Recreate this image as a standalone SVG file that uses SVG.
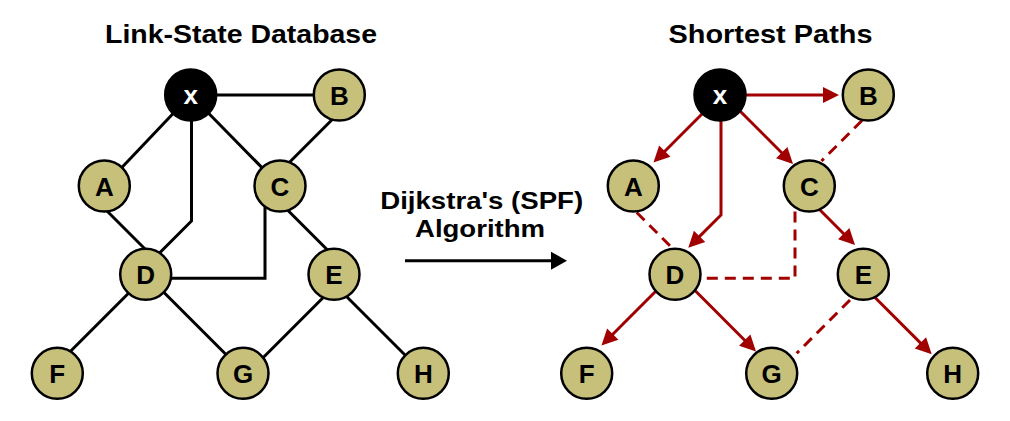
<svg xmlns="http://www.w3.org/2000/svg" width="1010" height="421" viewBox="0 0 1010 421">
<style>
.title{font-family:"Liberation Sans",Arial,sans-serif;font-weight:bold;fill:#000;text-anchor:middle}
.node circle{fill:#c6c07a;stroke:#000;stroke-width:2.5}
.node.src circle{fill:#000}
.node text{font-family:"Liberation Sans",Arial,sans-serif;font-weight:bold;font-size:26px;text-anchor:middle;fill:#000}
.node.src text{fill:#fff}
.blk{fill:none;stroke:#000;stroke-width:3}
.red{fill:none;stroke:#a00000;stroke-width:3}
.dash{fill:none;stroke:#a00000;stroke-width:3;stroke-dasharray:11 7}
.arr{marker-end:url(#ra)}
</style>
<defs>
<marker id="ra" markerUnits="userSpaceOnUse" markerWidth="16" markerHeight="16" refX="12" refY="8" orient="auto" overflow="visible">
<path d="M0,0 L16,8 L0,16 Z" fill="#a00000"/>
</marker>
<marker id="ba" markerUnits="userSpaceOnUse" markerWidth="16" markerHeight="18" refX="12" refY="9" orient="auto" overflow="visible">
<path d="M0,0 L16,9 L0,18 Z" fill="#000"/>
</marker>
</defs>
<rect width="1010" height="421" fill="#fff"/>
<text class="title" x="241" y="43" font-size="26" textLength="272" lengthAdjust="spacingAndGlyphs">Link-State Database</text>
<text class="title" x="770.5" y="43" font-size="26" textLength="204" lengthAdjust="spacingAndGlyphs">Shortest Paths</text>
<text class="title" x="481.7" y="209.3" font-size="24" textLength="203" lengthAdjust="spacingAndGlyphs">Dijkstra's (SPF)</text>
<text class="title" x="480" y="236.7" font-size="24" textLength="130" lengthAdjust="spacingAndGlyphs">Algorithm</text>
<g id="connectors">
<g id="left-edges">
<path class="blk" d="M191,95 H339"/>
<path class="blk" d="M190.7,95 L104.3,186"/>
<path class="blk" d="M190.7,95 L280,186"/>
<path class="blk" d="M336,115.7 L287,164.7"/>
<path class="blk" d="M106,210 L146,250"/>
<path class="blk" d="M191.5,95 V221 L150,262.5"/>
<path class="blk" d="M265,200 V278.3 H150"/>
<path class="blk" d="M285,207.5 L330,252.5"/>
<path class="blk" d="M130,291.7 L68,353.7"/>
<path class="blk" d="M163,291.5 L228,356.5"/>
<path class="blk" d="M324.5,296.3 L262,358.8"/>
<path class="blk" d="M345,295 L408,358"/>
</g>
<path id="algo-arrow" class="blk" d="M405,260.7 H563" marker-end="url(#ba)"/>
<g id="right-edges">
<path class="red arr" d="M720,95 H835"/>
<path class="red arr" d="M718,98 L656.3,159.7"/>
<path class="red arr" d="M736,107 L790.2,161.2"/>
<path class="red arr" d="M721,95 V215 L691.1,244.9"/>
<path class="red arr" d="M816,206 L852.2,242.2"/>
<path class="red arr" d="M658,289 L604.3,342.7"/>
<path class="red arr" d="M692,287.5 L753.2,348.7"/>
<path class="red arr" d="M872,294.5 L928.9,351.4"/>
<path class="dash" d="M862,120.5 L821.5,161"/>
<path class="dash" d="M636.7,212.5 L673.5,249.3"/>
<path class="dash" d="M795,211.5 V278.3 H701"/>
<path class="dash" d="M850,300 L796.7,353.3"/>
</g>
</g>
<g id="left-x" class="node src"><circle cx="190.7" cy="95" r="25.5"/><text x="190.7" y="104">x</text></g>
<g id="left-B" class="node"><circle cx="339.3" cy="95" r="25.5"/><text x="339.3" y="104.5">B</text></g>
<g id="left-A" class="node"><circle cx="104.3" cy="186" r="25.5"/><text x="104.3" y="195.5">A</text></g>
<g id="left-C" class="node"><circle cx="280" cy="186" r="25.5"/><text x="280" y="195.5">C</text></g>
<g id="left-D" class="node"><circle cx="145.7" cy="274.3" r="25.5"/><text x="145.7" y="283.8">D</text></g>
<g id="left-E" class="node"><circle cx="334" cy="274.3" r="25.5"/><text x="334" y="283.8">E</text></g>
<g id="left-F" class="node"><circle cx="57.3" cy="373.3" r="25.5"/><text x="57.3" y="382.8">F</text></g>
<g id="left-G" class="node"><circle cx="243" cy="373.3" r="25.5"/><text x="243" y="382.8">G</text></g>
<g id="left-H" class="node"><circle cx="423.3" cy="373.3" r="25.5"/><text x="423.3" y="382.8">H</text></g>
<g id="right-x" class="node src"><circle cx="720" cy="95" r="25.5"/><text x="720" y="104">x</text></g>
<g id="right-B" class="node"><circle cx="868.3" cy="95" r="25.5"/><text x="868.3" y="104.5">B</text></g>
<g id="right-A" class="node"><circle cx="633.3" cy="186" r="25.5"/><text x="633.3" y="195.5">A</text></g>
<g id="right-C" class="node"><circle cx="809.3" cy="186" r="25.5"/><text x="809.3" y="195.5">C</text></g>
<g id="right-D" class="node"><circle cx="675" cy="274.3" r="25.5"/><text x="675" y="283.8">D</text></g>
<g id="right-E" class="node"><circle cx="863.3" cy="274.3" r="25.5"/><text x="863.3" y="283.8">E</text></g>
<g id="right-F" class="node"><circle cx="586.7" cy="373.3" r="25.5"/><text x="586.7" y="382.8">F</text></g>
<g id="right-G" class="node"><circle cx="771.7" cy="373.3" r="25.5"/><text x="771.7" y="382.8">G</text></g>
<g id="right-H" class="node"><circle cx="952.7" cy="373.3" r="25.5"/><text x="952.7" y="382.8">H</text></g>
</svg>
